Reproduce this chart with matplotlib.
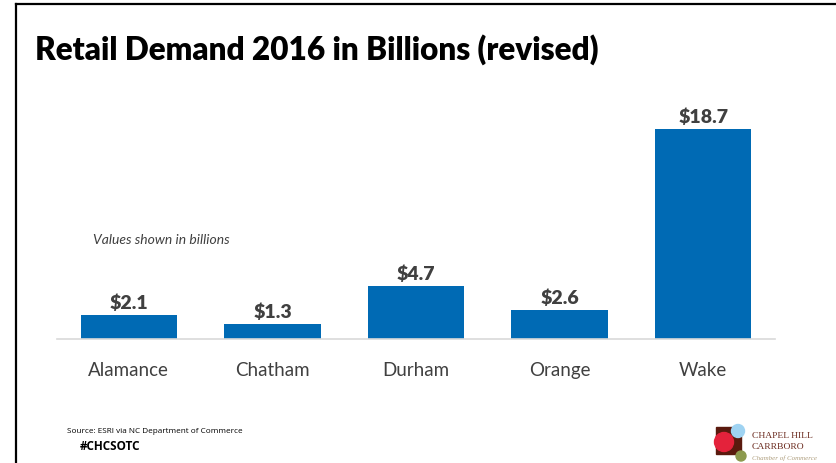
import matplotlib
matplotlib.use("Agg")
import matplotlib.pyplot as plt
from matplotlib.patches import Rectangle, Circle
from matplotlib.lines import Line2D

W, H = 836, 464

counties = ["Alamance", "Chatham", "Durham", "Orange", "Wake"]
demand = [2.1, 1.3, 4.7, 2.6, 18.7]
value_labels = ["$2.1", "$1.3", "$4.7", "$2.6", "$18.7"]

BLUE = "#006AB4"
GRAY = "#404040"

fig = plt.figure(figsize=(W / 100, H / 100), dpi=100)
fig.patch.set_facecolor("white")


def fx(px):
    return px / W


def fy(py):
    return 1 - py / H


# slide border (left + top)
fig.add_artist(Line2D([fx(16), fx(16)], [fy(5), 0], color="black", lw=1.6,
                      transform=fig.transFigure))
fig.add_artist(Line2D([fx(16), 1], [fy(5), fy(5)], color="black", lw=1.6,
                      transform=fig.transFigure))

# title
fig.text(fx(35), fy(50), "Retail Demand 2016 in Billions (revised)",
         family="Lato", weight="heavy", fontsize=22.7, color="black", va="center")

# chart area: baseline at y=340, 18.7 at y=130
ax = fig.add_axes([fx(57), fy(340), fx(775) - fx(57), (340 - 130) / H * (20 / 18.7)])
ax.bar(range(len(counties)), demand, width=0.67, color=BLUE)
ax.set_xlim(-0.5, 4.5)
ax.set_ylim(0, 20)
for i, (v, lab) in enumerate(zip(demand, value_labels)):
    ax.annotate(lab, (i, v), xytext=(0, 3), textcoords="offset points",
                ha="center", va="bottom", family="Lato", weight="heavy",
                fontsize=14, color=GRAY)
ax.set_xticks(range(len(counties)))
ax.set_xticklabels(counties, family="Lato", fontsize=13.5, color=GRAY)
ax.tick_params(axis="x", length=0, pad=16)
ax.set_yticks([])
for s in ["top", "right", "left"]:
    ax.spines[s].set_visible(False)
ax.spines["bottom"].set_color("#D9D9D9")
ax.spines["bottom"].set_linewidth(1.2)
ax.patch.set_alpha(0)

fig.text(fx(93), fy(240), "Values shown in billions", family="Lato",
         style="italic", fontsize=10, color=GRAY, va="center")

# footer
fig.text(fx(67), fy(432), "Source: ESRI via NC Department of Commerce",
         family="Open Sans", fontsize=5.9, color="black", va="center")
fig.text(fx(80), fy(447), "#CHCSOTC", family="Open Sans", weight="bold",
         fontsize=8.5, color="black", va="center")

# chamber logo
lax = fig.add_axes([0, 0, 1, 1], facecolor="none")
lax.set_xlim(0, W)
lax.set_ylim(H, 0)
lax.axis("off")
lax.add_patch(Rectangle((716, 428), 25, 27, color="#5A1A0E"))
lax.add_patch(Circle((738, 432), 6.5, color="#9FD3F2"))
lax.add_patch(Circle((724, 443), 9.5, color="#E4223B"))
lax.add_patch(Circle((741, 457), 5, color="#8C9A4E"))
lax.text(752, 436, "CHAPEL HILL", family="Liberation Serif", fontsize=6.8,
         color="#6B2A1E", va="center")
lax.text(752, 447, "CARRBORO", family="Liberation Serif", fontsize=6.8,
         color="#6B2A1E", va="center")
lax.text(752, 458, "Chamber of Commerce", family="Liberation Serif",
         style="italic", fontsize=5, color="#B0A080", va="center")

fig.savefig("out.png", dpi=100)
